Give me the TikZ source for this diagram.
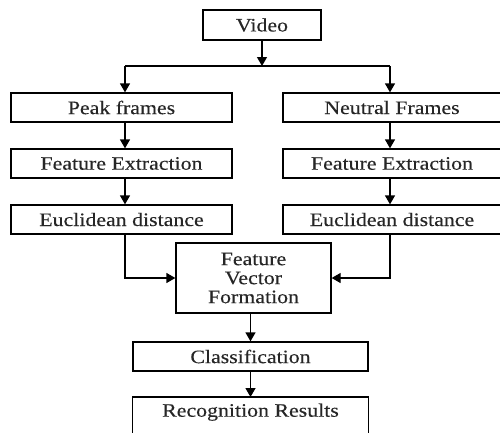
\documentclass[tikz,border=0pt]{standalone}
\usepackage{fontspec}
\setmainfont[FakeStretch=1.15,FakeBold=0.25]{Liberation Serif}
\usetikzlibrary{arrows.meta}
\begin{document}
\begin{tikzpicture}[x=1pt,y=-1pt,
  box/.style={draw, line width=1.3pt, minimum height=29pt, inner sep=0pt,
    font=\fontsize{19}{19}\selectfont, text=black!85},
  flow/.style={line width=1.3pt, -{Triangle[width=10pt,length=9pt]}},
  link/.style={line width=1.3pt}]
\useasboundingbox (0,0) rectangle (500,432);
\clip (0,0) rectangle (500,432);

% boxes
\node[box, minimum width=118pt, minimum height=30pt] (video) at (262,25) {Video};
\node[box, minimum width=221pt] (peak) at (121.5,107.5) {Peak frames};
\node[box, minimum width=218pt] (neutral) at (392,107.5) {Neutral Frames};
\node[box, minimum width=221pt] (featL) at (121.5,163.5) {Feature Extraction};
\node[box, minimum width=218pt] (featR) at (392,163.5) {Feature Extraction};
\node[box, minimum width=221pt] (eucL) at (121.5,219.5) {Euclidean distance};
\node[box, minimum width=218pt] (eucR) at (392,219.5) {Euclidean distance};
\node[box, minimum width=155pt, minimum height=70pt, align=center] (fvf) at (253.5,278)
  {Feature\\Vector\\Formation};
\node[box, minimum width=235pt] (cls) at (250.5,356.5) {Classification};
\node[box, draw=none, minimum width=235pt, anchor=north] (res) at (250.5,397) {Recognition Results};
\draw[link] ([yshift=-30pt]res.south west) -- (res.north west) -- (res.north east)
  -- ([yshift=-30pt]res.south east);

% split below the video box
\coordinate (split) at (262,66);
\coordinate (jL) at (125,66);
\coordinate (jR) at (390,66);
\draw[flow] (video) -- (split);
\draw[link] (jL) -- (jR);
\draw[flow] (jL) -- (jL |- peak.north);
\draw[flow] (jR) -- (jR |- neutral.north);

% left column
\draw[flow] (jL |- peak.south) -- (jL |- featL.north);
\draw[flow] (jL |- featL.south) -- (jL |- eucL.north);
\draw[flow] (jL |- eucL.south) |- (fvf.west);

% right column
\draw[flow] (jR |- neutral.south) -- (jR |- featR.north);
\draw[flow] (jR |- featR.south) -- (jR |- eucR.north);
\draw[flow] (jR |- eucR.south) |- (fvf.east);

% merge and output
\draw[flow] (cls.north |- fvf.south) -- (cls.north);
\draw[flow] (cls.south) -- (res.north);
\end{tikzpicture}
\end{document}
